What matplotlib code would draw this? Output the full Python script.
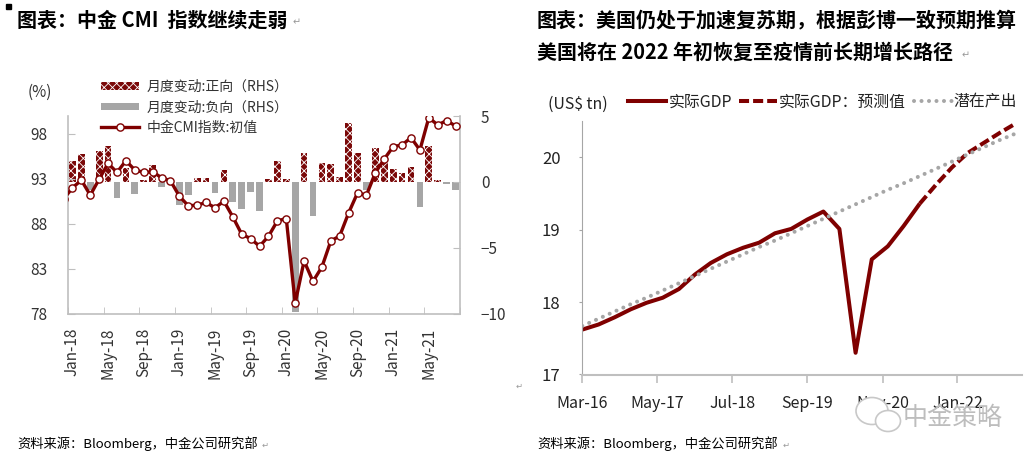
import pandas as pd
import matplotlib.pyplot as plt
from matplotlib.patches import Patch, Rectangle, Ellipse
from matplotlib.lines import Line2D

plt.rcParams['font.family'] = ['Noto Sans CJK SC', 'DejaVu Sans']
plt.rcParams['hatch.linewidth'] = 0.6

# ---- left chart: CMI index (monthly) ----
cmi_months = pd.date_range('2017-12-01', '2021-08-01', freq='MS')   # Dec-17 only shows as a line stub
cmi_values = [90.74,
              92.0, 92.86, 91.18, 92.97, 94.72, 93.72, 95.02, 93.98, 93.72, 93.79, 93.12, 92.79,
              91.07, 90.0, 90.07, 90.37, 89.77, 90.51, 88.76, 86.83, 86.34, 85.49, 86.6, 88.31,
              88.58, 79.15, 83.85, 81.58, 83.18, 86.08, 86.64, 89.21, 91.44, 91.18, 93.68, 95.21,
              96.59, 96.77, 97.59, 96.21, 99.82, 99.0, 99.49, 98.89]
cmi_change = [1.6, 2.09, -0.63, 2.35, 2.72, -1.25, 1.02, -0.92, 0.13, 1.3, -0.4, -0.15,
              -1.75, -1.0, 0.32, 0.32, -0.83, 0.89, -1.5, -2.05, -0.75, -2.25, 0.22, 1.58,
              0.2, -9.9, 2.21, -2.59, 1.4, 1.35, 0.38, 4.45, 2.16, -0.63, 2.54, 1.52,
              0.94, 0.69, 1.1, -1.9, 2.72, 0.13, -0.18, -0.63]

# ---- right chart: US real GDP (quarterly, US$ tn) ----
gdp_dates = pd.date_range('2016-03-01', periods=28, freq='3MS')
gdp_actual = [17.62, 17.69, 17.79, 17.90, 17.99, 18.06, 18.18, 18.38, 18.54, 18.66, 18.75,
              18.82, 18.95, 19.01, 19.14, 19.25, 19.01, 17.30, 18.59, 18.77, 19.05, 19.36]
gdp_forecast = [19.36, 19.62, 19.86, 20.06, 20.20, 20.34, 20.47]
gdp_potential = [17.67, 17.77, 17.87, 17.97, 18.06, 18.16, 18.26, 18.36, 18.46, 18.56,
                 18.66, 18.76, 18.85, 18.95, 19.05, 19.15, 19.25, 19.35, 19.45, 19.55,
                 19.64, 19.74, 19.84, 19.94, 20.04, 20.14, 20.24, 20.33]

RED = '#7F0000'
BAR_RED = '#7A0808'
GRAY = '#A6A6A6'
AXC = '#BFBFBF'
TXT = '#333333'

W, H = 1035, 461
fig = plt.figure(figsize=(W / 100, H / 100), dpi=100)


def box(x0, y0, x1, y1):
    return [x0 / W, 1 - y1 / H, (x1 - x0) / W, (y1 - y0) / H]


# ================= left chart =================
n = len(cmi_change)
x = list(range(n))
ax_bar = fig.add_axes(box(68, 116, 460, 313.5))
ax_line = ax_bar.twinx()

pos_vals = [v if v > 0 else 0 for v in cmi_change]
neg_vals = [v if v < 0 else 0 for v in cmi_change]
ax_bar.bar(x, pos_vals, width=0.75, color=BAR_RED, edgecolor='white', linewidth=0, hatch='xxxx')
ax_bar.bar(x, neg_vals, width=0.75, color=GRAY, linewidth=0)
ax_bar.set_ylim(-10, 5)
ax_bar.set_yticks([-10, -5, 0, 5])
ax_bar.yaxis.tick_right()
ax_bar.set_xlim(-0.5, n - 0.5)

x_line = list(range(-1, n))
ax_line.plot(x_line, cmi_values, color=RED, lw=2.4, marker='o', ms=5.2,
             mfc='white', mec=RED, mew=1.0, zorder=3)
ax_line.set_ylim(78, 100)
ax_line.set_yticks([78, 83, 88, 93, 98])
ax_line.yaxis.tick_left()
ax_line.set_xlim(-0.5, n - 0.5)

month_labels = [d.strftime('%b-%y') for d in cmi_months[1:]]
ax_bar.set_xticks(x[::4])
ax_bar.set_xticklabels(month_labels[::4], rotation=90)
ax_bar.set_xticks([i - 0.5 for i in range(0, n + 1, 4)], minor=True)
ax_bar.tick_params(axis='x', which='major', length=0, pad=10, labelsize=11, labelcolor=TXT)
ax_bar.tick_params(axis='x', which='minor', direction='in', length=5, color=AXC)
ax_bar.tick_params(axis='y', direction='in', length=5, color=AXC, pad=15,
                   labelsize=11, labelcolor=TXT)
ax_line.tick_params(axis='y', direction='in', length=5, color=AXC, pad=15,
                    labelsize=11, labelcolor=TXT)
for s in ['left', 'right', 'bottom']:
    ax_bar.spines[s].set_color(AXC)
    ax_bar.spines[s].set_linewidth(1.2)
ax_bar.spines['top'].set_visible(False)
for s in ax_line.spines.values():
    s.set_visible(False)

handles = [Patch(facecolor=BAR_RED, edgecolor='white', linewidth=0, hatch='xxxx'),
           Patch(facecolor=GRAY, linewidth=0),
           Line2D([], [], color=RED, lw=2.4, marker='o', ms=5.2, mfc='white', mec=RED, mew=1.0)]
labels = ['月度变动:正向（RHS）', '月度变动:负向（RHS）', '中金CMI指数:初值']
fig.legend(handles, labels, loc='upper left', bbox_to_anchor=(101 / W, 1 - 80 / H),
           frameon=False, fontsize=10, handlelength=2.7, handleheight=0.45,
           handletextpad=0.6, labelspacing=0.45, borderpad=0, borderaxespad=0,
           labelcolor=TXT)

# ================= right chart =================
ax2 = fig.add_axes(box(582.3, 121, 1021.7, 374.5))
ax2.plot(gdp_dates[:len(gdp_actual)], gdp_actual, color=RED, lw=2.9, solid_capstyle='butt')
ax2.plot(gdp_dates[len(gdp_actual) - 1:], gdp_forecast, color=RED, lw=2.9,
         ls=(0, (2.5, 1.0)))
ax2.plot(gdp_dates, gdp_potential, color=GRAY, lw=2.9, ls=(0, (0.01, 1.85)),
         dash_capstyle='round')
ax2.set_ylim(17, 20.5)
ax2.set_yticks([17, 18, 19, 20])
tick_dates = pd.date_range('2016-03-01', periods=6, freq='14MS')
ax2.set_xticks(tick_dates)
ax2.set_xticklabels([d.strftime('%b-%y') for d in tick_dates])
ax2.set_xlim(pd.Timestamp('2016-03-01'), pd.Timestamp('2023-01-01'))
ax2.tick_params(axis='x', direction='out', length=5.5, color=AXC, width=1.2, pad=9,
                labelsize=11.5, labelcolor='#222222')
ax2.tick_params(axis='y', direction='out', length=2.2, color=GRAY, pad=13.5,
                labelsize=12, labelcolor='#222222')
ax2.spines['left'].set_color(GRAY)
ax2.spines['bottom'].set_color(AXC)
ax2.spines['bottom'].set_linewidth(1.5)
ax2.spines['top'].set_visible(False)
ax2.spines['right'].set_visible(False)

h2 = [Line2D([], [], color=RED, lw=2.9),
      Line2D([], [], color=RED, lw=2.9, ls=(0, (2.5, 1.0))),
      Line2D([], [], color=GRAY, lw=2.9, ls=(0, (0.01, 1.85)), dash_capstyle='round')]
fig.legend(h2, ['实际GDP', '实际GDP：预测值', '潜在产出'], loc='upper left', ncol=3,
           bbox_to_anchor=(628 / W, 1 - 93.5 / H), frameon=False, fontsize=11.4,
           handlelength=2.4, handletextpad=0.15, columnspacing=0.45, borderpad=0,
           borderaxespad=0, labelcolor='#222222')

# ================= text overlay (pixel coordinates) =================
ov = fig.add_axes([0, 0, 1, 1], zorder=5)
ov.set_xlim(0, W)
ov.set_ylim(H, 0)
ov.axis('off')

ov.add_patch(Rectangle((6, 4), 5, 5, color='black'))
ov.text(17, 20, '图表：中金 CMI  指数继续走弱', fontsize=14.4, weight='bold', va='center')
ov.text(293, 22, '↵', fontsize=7, color='#999999', va='center')
ov.text(537, 20, '图表：美国仍处于加速复苏期，根据彭博一致预期推算', fontsize=14.4,
        weight='bold', va='center')
ov.text(537, 52, '美国将在 2022 年初恢复至疫情前长期增长路径', fontsize=14.4,
        weight='bold', va='center')
ov.text(962, 55, '↵', fontsize=7, color='#999999', va='center')

ov.text(40, 92, '(%)', fontsize=11, color=TXT, ha='center', va='center')
ov.text(548, 104, '(US$ tn)', fontsize=11.4, color='#222222', va='center')

ov.text(17, 444, '资料来源：Bloomberg，中金公司研究部', fontsize=9.5, va='center')
ov.text(537, 444, '资料来源：Bloomberg，中金公司研究部', fontsize=9.5, va='center')
ov.text(262, 445, '↵', fontsize=6, color='#999999', va='center')
ov.text(783, 445, '↵', fontsize=6, color='#999999', va='center')
ov.text(516, 386, '↵', fontsize=6, color='#999999', va='center')

# watermark (the reference's watermark sits over part of the Jan-22 label)
ov.add_patch(Ellipse((872, 411), 32, 27, facecolor='white', edgecolor='#C8C8C8', lw=1.2))
ov.add_patch(Ellipse((888, 421), 25, 21, facecolor='white', edgecolor='#C8C8C8', lw=1.2))
ov.text(953, 418, '中金策略', fontsize=18, color='#BDBDBD', ha='center', va='center')

fig.savefig('out.png', dpi=100)
